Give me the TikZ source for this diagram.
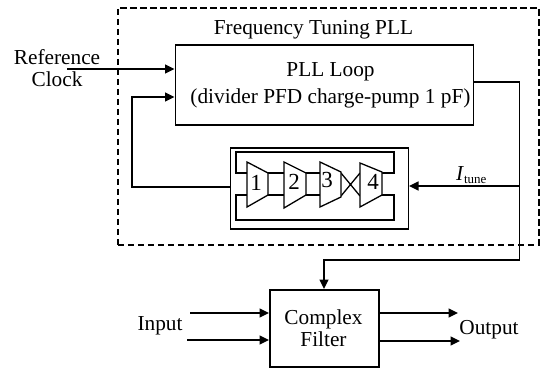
\documentclass[tikz,border=0pt]{standalone}
\usepackage{fontspec}
\setmainfont{Liberation Serif}
\usetikzlibrary{arrows.meta}
\tikzset{
  x=1pt,y=-1pt,
  wire/.style={line width=1.5pt,line join=miter},
  arrowed/.style={wire,-{Triangle[length=9.5pt,width=9pt]}},
  blockbox/.style={draw,line width=1.6pt,minimum width=0,inner sep=0pt,anchor=north west},
  amp/.style={draw,line width=1.3pt,fill=white},
  loopw/.style={line width=1.3pt},
  lab/.style={font=\fontsize{21.3}{22}\selectfont,align=center,inner sep=0pt},
  numlab/.style={font=\fontsize{23}{23}\selectfont,inner sep=0pt}
}
\begin{document}
\begin{tikzpicture}
\useasboundingbox (0,0) rectangle (542,370);
\fill[white] (0,0) rectangle (542,370);
% dashed frame
\node[draw,line width=1.7pt,dash pattern=on 6.5pt off 3.5pt,minimum width=421pt,minimum height=237pt,inner sep=0pt,anchor=north west] (frame) at (117,7) {};
% main blocks
\node[blockbox,minimum width=298pt,minimum height=80pt] (pll) at (174.5,44) {};
\node[blockbox,minimum width=178pt,minimum height=81pt] (vco) at (229.5,147) {};
\node[blockbox,minimum width=109pt,minimum height=77pt] (cf) at (269,289) {};
% texts
\node[lab] (title) at (313.5,30) {Frequency Tuning PLL};
\node[lab] (plltxt) at (330.5,85.5) {PLL Loop\\[5pt](divider PFD charge-pump 1 pF)};
\node[lab] (cftxt) at (323.5,328) {Complex\\Filter};
\node[lab] (refclk) at (57,68) {Reference\\Clock};
\node[lab] (inp) at (160,326) {Input};
\node[lab] (outp) at (489,330) {Output};
\node[lab,anchor=base west] (itune) at (456,180) {\textit{I}\raisebox{-3pt}{\fontsize{13}{13}\selectfont tune}};
% free ends
\coordinate (refstart) at (67,69);
\coordinate (pllin) at (pll.west |- 0,69);
\coordinate (fbin) at (pll.west |- 0,97);
\coordinate (vcoout) at (vco.west |- 0,187);
\coordinate (vcoin) at (vco.east |- 0,186);
\coordinate (pllout) at (pll.east |- 0,82);
\coordinate (itunestart) at (519.5,186);
\coordinate (cftop) at (324,289);
\coordinate (cfin1) at (cf.west |- 0,313);
\coordinate (cfin2) at (cf.west |- 0,340);
\coordinate (cfout1) at (cf.east |- 0,313);
\coordinate (cfout2) at (cf.east |- 0,341);
\coordinate (in1s) at (190,313);
\coordinate (in2s) at (187,340);
\coordinate (out1e) at (458,313);
\coordinate (out2e) at (460,341);
% connectors
\draw[arrowed] (refstart) -- (pllin);
\draw[arrowed] (vcoout) -- (132,187) -- (132,97) -- (fbin);
\draw[arrowed] (pllout) -- (519.5,82) -- (519.5,260) -- (324,260) -- (cftop);
\draw[arrowed] (itunestart) -- (vcoin);
\draw[arrowed] (in1s) -- (cfin1);
\draw[arrowed] (in2s) -- (cfin2);
\draw[arrowed] (cfout1) -- (out1e);
\draw[arrowed] (cfout2) -- (out2e);
% VCO ring
\draw[loopw] (247,173) -- (236,173) -- (236,152) -- (394,152) -- (394,173) -- (382,173);
\draw[loopw] (247,195) -- (236,195) -- (236,220) -- (394,220) -- (394,195) -- (382,195);
\draw[loopw] (268,173) -- (284,173) (268,195) -- (284,195);
\draw[loopw] (306,173) -- (320,173) (306,195) -- (320,195);
\draw[loopw] (341,173) -- (360,196) (341,196) -- (360,173);
\draw[amp] (247,162) -- (268,173) -- (268,195) -- (247,207) -- cycle;
\draw[amp] (284,162) -- (306,173) -- (306,195) -- (284,208) -- cycle;
\draw[amp] (320,162) -- (341,172) -- (341,197) -- (320,207) -- cycle;
\draw[amp] (360,207) -- (382,195) -- (382,172) -- (360,163) -- cycle;
\node[numlab] (n1) at (256,183) {1};
\node[numlab] (n2) at (294,182) {2};
\node[numlab] (n3) at (327,180) {3};
\node[numlab] (n4) at (373,182) {4};
\end{tikzpicture}
\end{document}
